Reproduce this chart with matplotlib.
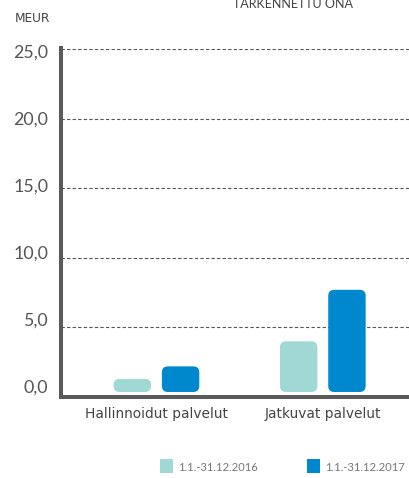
import matplotlib
matplotlib.use("Agg")
import matplotlib.pyplot as plt
from matplotlib.patches import FancyBboxPatch, Rectangle

categories = ["Hallinnoidut palvelut", "Jatkuvat palvelut"]
series_names = ["1.1.-31.12.2016", "1.1.-31.12.2017"]
values_2016 = [1.3, 4.0]
values_2017 = [2.2, 7.7]
colors = ["#a0d9d4", "#0088cf"]
yticks = [0, 5, 10, 15, 20, 25]
ytick_labels = ["0,0", "5,0", "10,0", "15,0", "20,0", "25,0"]

plt.rcParams['font.family'] = ['Lato', 'DejaVu Sans']

W, H = 410, 478
fig = plt.figure(figsize=(W / 100, H / 100), dpi=100)
ax_left, ax_bottom, ax_w, ax_h = 61.3 / W, 81 / H, (W - 61.3) / W, 348 / H
ax = fig.add_axes([ax_left, ax_bottom, ax_w, ax_h])
xlim = (-0.572, 1.524)
ylim = (0, 25)
ax.set_xlim(*xlim)
ax.set_ylim(*ylim)

# pixel scale for rounded corners
xpp = (xlim[1] - xlim[0]) / (ax_w * W)
ypp = (ylim[1] - ylim[0]) / (ax_h * H)
aspect = ypp / xpp
radius_px = 6

width = 0.225
offsets = [-0.145, 0.145]
base = 0.36
for si, vals in enumerate([values_2016, values_2017]):
    for ci, v in enumerate(vals):
        x0 = ci + offsets[si] - width / 2
        p = FancyBboxPatch((x0, base), width, v - base,
                           boxstyle=f"round,pad=0,rounding_size={radius_px * xpp}",
                           mutation_aspect=aspect,
                           facecolor=colors[si], edgecolor="none", zorder=3)
        ax.add_patch(p)

for y in yticks[1:]:
    ax.axhline(y, color="#555555", lw=0.8, ls=(0, (3, 2)), zorder=1)

for s in ["top", "right"]:
    ax.spines[s].set_visible(False)
for s in ["left", "bottom"]:
    ax.spines[s].set_color("#5a5a5a")
    ax.spines[s].set_linewidth(2.9)
ax.spines["left"].set_bounds(0, 25.1)

ax.set_yticks(yticks)
ax.set_yticklabels([])
ax.tick_params(axis="y", length=0)
ax.set_xticks([0, 1])
ax.set_xticklabels(categories, fontsize=9.9, color="#444444", family="DejaVu Sans")
ax.tick_params(axis="x", length=0, pad=7)

# tick labels sit on a slightly compressed scale relative to the gridlines
ax2 = ax.twinx()
ax2.set_ylim(-0.827, 25.19)
ax2.yaxis.tick_left()
ax2.set_yticks(yticks)
ax2.set_yticklabels(ytick_labels, fontsize=12.8, color="#555555")
ax2.tick_params(axis="y", length=0, pad=9.5)
for s in ax2.spines.values():
    s.set_visible(False)

fig.text(15 / W, 1 - 19 / H, "MEUR", fontsize=8.7, color="#444444",
         family="DejaVu Sans", va="center")
fig.text(293 / W, 1 - 8 / H, "TARKENNETTU ONA", fontsize=9, color="#444444",
         ha="center", va="baseline")

# legend
leg_items = [(160 / W, 178 / W, series_names[0], colors[0]),
             (306.7 / W, 325.5 / W, series_names[1], colors[1])]
for xs, xt, name, c in leg_items:
    fig.patches.append(Rectangle((xs, 1 - 473 / H), 13 / W, 14 / H,
                                 transform=fig.transFigure,
                                 facecolor=c, edgecolor="none"))
    fig.text(xt, 1 - 467.5 / H, name, fontsize=8.1, color="#777777", va="center")

fig.savefig("out.png", dpi=100)
